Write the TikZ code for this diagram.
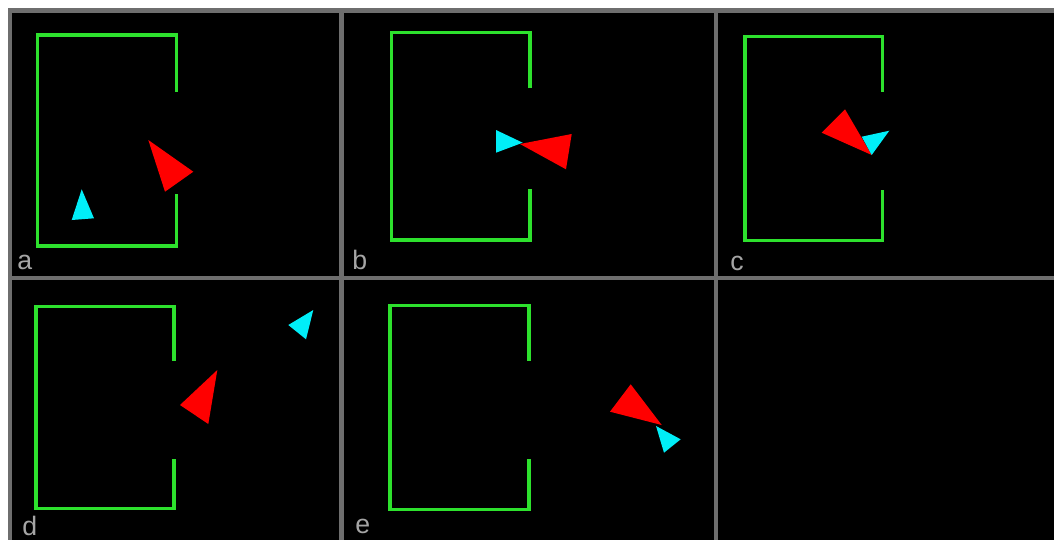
\documentclass[tikz,border=0pt]{standalone}
\usepackage{fontspec}
\setsansfont{Liberation Sans}
\definecolor{framegray}{RGB}{110,110,110}
\definecolor{wallgreen}{RGB}{45,225,45}
\definecolor{robotred}{RGB}{255,0,0}
\definecolor{goalcyan}{RGB}{0,238,248}
\definecolor{labelgray}{RGB}{165,165,165}
% wall with an opening on its right side: left, top, right, bottom, gap top, gap bottom
\newcommand\wallbox[6]{%
  \draw[wall] (#3,#5) -- (#3,#2) -- (#1,#2) -- (#1,#4) -- (#3,#4) -- (#3,#6);}

\begin{document}
\begin{tikzpicture}[
    x=0.75pt, y=-0.75pt,
    wall/.style={draw=wallgreen, line width=2.4pt, line join=miter},
    redtri/.style={fill=robotred},
    cyantri/.style={fill=goalcyan},
    grid line/.style={draw=framegray, line width=3.3pt},
    panellabel/.style={anchor=base west, inner sep=0pt, text=labelgray,
                       font=\sffamily\fontsize{20}{20}\selectfont}
]
\useasboundingbox (0,0) rectangle (1054,540);
\fill[white] (0,0) rectangle (1054,540);
\fill[black] (10,10.5) rectangle (1054,540);

% panel frame
\draw[grid line] (8,10.5) -- (1054,10.5);
\draw[grid line] (8,278) -- (1054,278);
\draw[grid line] (10,8.5) -- (10,540);
\draw[grid line] (341.5,8.5) -- (341.5,540);
\draw[grid line] (716,8.5) -- (716,540);

% a
\wallbox{37.3}{35}{176.7}{246}{91.7}{194.3}
\fill[redtri] (148.3,140) -- (193.3,171.7) -- (165,191.7) -- cycle;
\fill[cyantri] (81.7,189.3) -- (94,218.3) -- (71.7,220) -- cycle;
\node[panellabel] (lbla) at (17,269) {a};

% b
\wallbox{391.7}{32.3}{530}{240}{88.3}{189}
\fill[cyantri] (496,130) -- (522.7,142.7) -- (496,152.7) -- cycle;
\fill[redtri] (520,144) -- (571.7,134) -- (566,169.3) -- cycle;
\node[panellabel] (lblb) at (352,269) {b};

% c
\wallbox{745}{36.7}{882.7}{240.7}{91.7}{190}
\fill[redtri] (821.7,132.7) -- (845,109.3) -- (871.7,155) -- cycle;
\fill[cyantri] (861.7,136.7) -- (889.3,130.7) -- (871.7,155) -- cycle;
\node[panellabel] (lblc) at (730,270) {c};

% d
\wallbox{36}{306.7}{174}{508.3}{360.7}{459}
\fill[redtri] (180,405) -- (217.3,370) -- (208.3,424) -- cycle;
\fill[cyantri] (288.3,325) -- (313.3,310) -- (306,339.3) -- cycle;
\node[panellabel] (lbld) at (22,535.5) {d};

% e
\wallbox{390}{305.7}{529}{509.3}{360.7}{459.3}
\fill[redtri] (610,411.7) -- (630.7,384.3) -- (661.7,425) -- cycle;
\fill[cyantri] (656,426) -- (680.7,439.3) -- (664,452.7) -- cycle;
\node[panellabel] (lble) at (355,533) {e};

\end{tikzpicture}
\end{document}
